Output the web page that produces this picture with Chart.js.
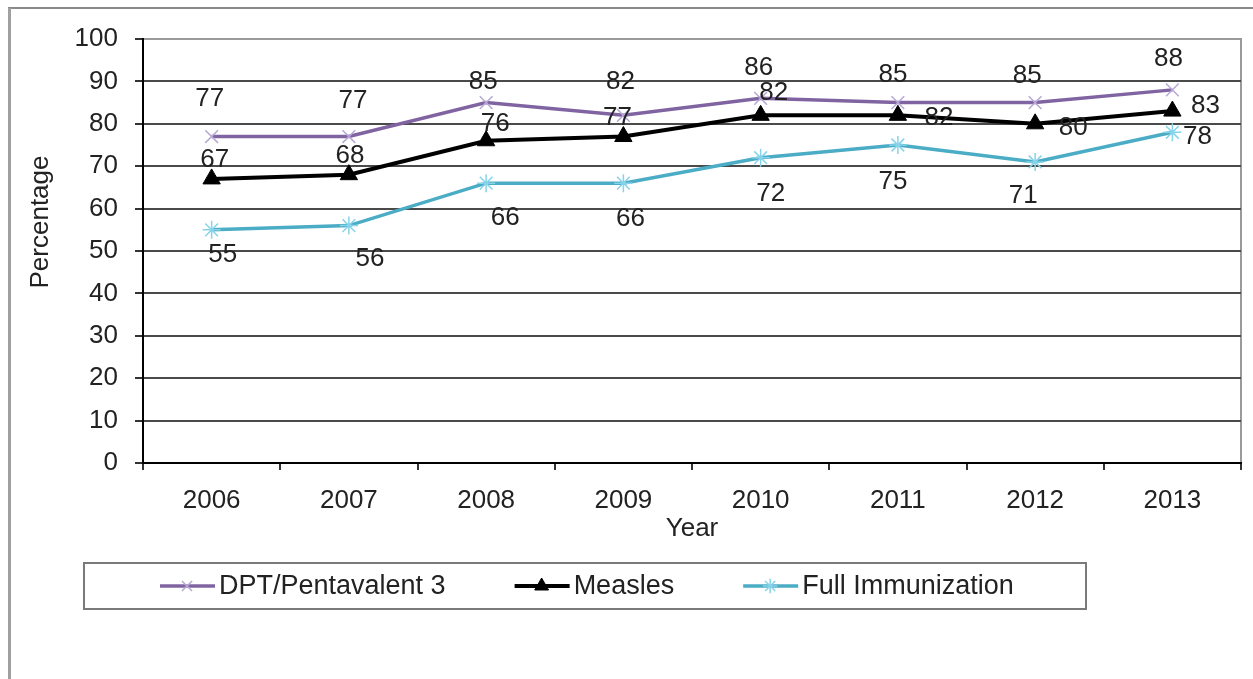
<!DOCTYPE html>
<html>
<head>
<meta charset="utf-8">
<script src="https://cdn.jsdelivr.net/npm/chart.js@4.4.0/dist/chart.umd.min.js"></script>
<style>
html, body { margin: 0; padding: 0; background: #fff; overflow: hidden; }
#wrap { width: 1253px; height: 679px; }
</style>
</head>
<body>
<div id="wrap"><canvas id="chart"></canvas></div>
<script>
const years = ['2006', '2007', '2008', '2009', '2010', '2011', '2012', '2013'];
const dpt = [77, 77, 85, 82, 86, 85, 85, 88];
const measles = [67, 68, 76, 77, 82, 82, 80, 83];
const fullImm = [55, 56, 66, 66, 72, 75, 71, 78];
const seriesNames = ['DPT/Pentavalent 3', 'Measles', 'Full Immunization'];
const yTitle = 'Percentage';
const xTitle = 'Year';

const FONT = '"Liberation Sans", Arial, sans-serif';
const TEXT = '#222';

// where each value label sits relative to its point (dx, dy)
const dptLabelPos = [[-2,-38],[4,-36],[-3,-21],[-3,-33],[-2,-31],[-5,-28],[-8,-27],[-4,-31]];
const measlesLabelPos = [[3,-19],[1,-19],[9,-17],[-6,-19],[13,-22],[41,3],[38,4],[33,-5]];
const fullLabelPos = [[11,25],[21,33],[19,35],[7,36],[10,36],[-5,37],[-12,34],[25,5]];

const decor = {
    id: 'decor',
    beforeDraw(chart) {
        const c = chart.ctx, a = chart.chartArea;
        c.save();
        c.fillStyle = '#fff';
        c.fillRect(0, 0, chart.width, chart.height);
        // outer frame
        c.strokeStyle = '#8a8a8a';
        c.lineWidth = 2;
        c.beginPath(); c.moveTo(8, 8); c.lineTo(chart.width, 8); c.stroke();
        c.strokeStyle = '#a0a0a0';
        c.lineWidth = 3;
        c.beginPath(); c.moveTo(9.5, 8); c.lineTo(9.5, chart.height); c.stroke();
        // plot area border top/right
        c.strokeStyle = '#9a9a9a';
        c.lineWidth = 2;
        c.beginPath(); c.moveTo(a.left, a.top); c.lineTo(a.right, a.top); c.lineTo(a.right, a.bottom); c.stroke();
        c.restore();
    },
    afterDatasetsDraw(chart) {
        const c = chart.ctx;
        c.save();
        c.font = '26px ' + FONT;
        c.fillStyle = TEXT;
        c.textAlign = 'center';
        c.textBaseline = 'middle';
        chart.data.datasets.forEach((ds, i) => {
            const meta = chart.getDatasetMeta(i);
            meta.data.forEach((pt, j) => {
                const off = ds.labelPos[j];
                c.fillText(String(ds.data[j]), pt.x + off[0], pt.y + off[1]);
            });
        });
        c.restore();
    },
    afterDraw(chart) {
        const c = chart.ctx;
        c.save();
        // y axis title
        c.font = '26px ' + FONT;
        c.fillStyle = TEXT;
        c.textAlign = 'center';
        c.textBaseline = 'middle';
        c.translate(41, 222);
        c.rotate(-Math.PI / 2);
        c.fillText(yTitle, 0, 0);
        c.restore();

        // legend box
        c.save();
        c.strokeStyle = '#7a7a7a';
        c.lineWidth = 2;
        c.strokeRect(84, 563, 1002, 46);
        c.font = '27px ' + FONT;
        c.textBaseline = 'middle';
        c.textAlign = 'left';
        let x = 160;
        const y = 586;
        chart.data.datasets.forEach((ds) => {
            c.strokeStyle = ds.borderColor;
            c.lineWidth = ds.borderWidth;
            c.beginPath(); c.moveTo(x, y); c.lineTo(x + 55, y); c.stroke();
            c.strokeStyle = ds.pointBorderColor;
            c.fillStyle = ds.pointBackgroundColor;
            c.lineWidth = ds.pointBorderWidth;
            Chart.helpers.drawPoint(c, {pointStyle: ds.pointStyle, rotation: 0, radius: ds.pointRadius * 0.8, borderWidth: ds.pointBorderWidth}, x + 27, y);
            c.fillStyle = TEXT;
            c.fillText(ds.label, x + 59, y + 1);
            x += 59 + c.measureText(ds.label).width + 69;
        });
        c.restore();
    }
};

new Chart(document.getElementById('chart'), {
    type: 'line',
    data: {
        labels: years,
        datasets: [
            {
                label: seriesNames[0], data: dpt, labelPos: dptLabelPos,
                borderColor: '#8064a2', borderWidth: 3.5,
                pointStyle: 'crossRot', pointRadius: 9, pointBorderWidth: 1.5,
                pointBorderColor: '#b7a8d6', pointBackgroundColor: '#b7a8d6'
            },
            {
                label: seriesNames[1], data: measles, labelPos: measlesLabelPos,
                borderColor: '#000', borderWidth: 4,
                pointStyle: 'triangle', pointRadius: 10, pointBorderWidth: 1,
                pointBorderColor: '#000', pointBackgroundColor: '#000'
            },
            {
                label: seriesNames[2], data: fullImm, labelPos: fullLabelPos,
                borderColor: '#4bacc6', borderWidth: 3.5,
                pointStyle: 'star', pointRadius: 9, pointBorderWidth: 1.5,
                pointBorderColor: '#86d3ea', pointBackgroundColor: '#86d3ea'
            }
        ]
    },
    options: {
        responsive: true,
        maintainAspectRatio: false,
        animation: false,
        layout: { padding: { top: 39, right: 12, left: 0, bottom: 0 } },
        elements: { line: { tension: 0 } },
        plugins: { legend: { display: false }, tooltip: { enabled: false } },
        scales: {
            x: {
                offset: true,
                afterFit(scale) { scale.height = 216; },
                grid: { display: true, drawOnChartArea: false, drawTicks: true, tickLength: 7, offset: true, tickColor: '#333', lineWidth: 2 },
                border: { display: true, color: '#000', width: 2 },
                ticks: { color: TEXT, padding: 15, font: { family: FONT, size: 26 }, maxRotation: 0 },
                title: { display: true, text: xTitle, color: TEXT, font: { family: FONT, size: 26 }, padding: { top: 0, bottom: 135 } }
            },
            y: {
                min: 0, max: 100,
                afterFit(scale) { scale.width = 143; },
                grid: {
                    color: (ctx) => ctx.tick && ctx.tick.value === 100 ? '#9a9a9a' : '#4a4a4a',
                    lineWidth: 2, tickLength: 8, tickColor: '#333'
                },
                border: { display: true, color: '#000', width: 2 },
                ticks: { stepSize: 10, color: TEXT, padding: 17, font: { family: FONT, size: 26 } }
            }
        }
    },
    plugins: [decor]
});
</script>
</body>
</html>
